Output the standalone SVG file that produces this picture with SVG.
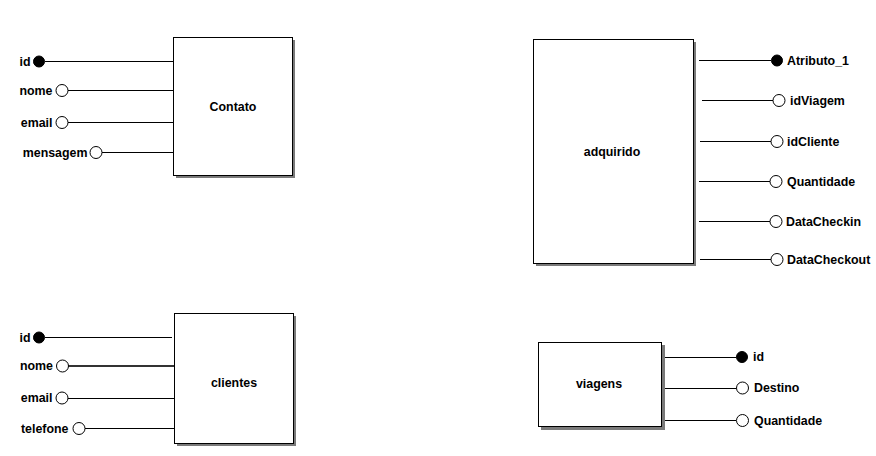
<svg xmlns="http://www.w3.org/2000/svg" width="876" height="456" viewBox="0 0 876 456">
<style>
text{font-family:"Liberation Sans",Arial,sans-serif;font-size:12.4px;font-weight:bold;fill:#000}
.l{text-anchor:end}
.c{text-anchor:middle}
.box{fill:#fff;stroke:#000;stroke-width:1}
.sh{fill:#7a7a7a}
.ln{stroke:#000;stroke-width:1;fill:none}
.ko{fill:#fff;stroke:#000;stroke-width:1}
.pk{fill:#000;stroke:#000;stroke-width:1}
</style>
<rect width="876" height="456" fill="#fff"/>
<g id="connectors">
<line class="ln" x1="45" y1="61.5" x2="173" y2="61.5"/>
<line class="ln" x1="68" y1="90.5" x2="173" y2="90.5"/>
<line class="ln" x1="68" y1="122.5" x2="173" y2="122.5"/>
<line class="ln" x1="102" y1="152.5" x2="175" y2="152.5"/>
<line class="ln" x1="699" y1="60.5" x2="771" y2="60.5"/>
<line class="ln" x1="702" y1="100.5" x2="773" y2="100.5"/>
<line class="ln" x1="700" y1="141.5" x2="771" y2="141.5"/>
<line class="ln" x1="699" y1="181.5" x2="770" y2="181.5"/>
<line class="ln" x1="699" y1="221.5" x2="770" y2="221.5"/>
<line class="ln" x1="700" y1="259.5" x2="771" y2="259.5"/>
<line class="ln" x1="45" y1="337.5" x2="172" y2="337.5"/>
<line class="ln" x1="68" y1="366" x2="175" y2="366" style="stroke:#333;stroke-width:2"/>
<line class="ln" x1="68" y1="398.5" x2="175" y2="398.5"/>
<line class="ln" x1="85" y1="428.5" x2="176" y2="428.5"/>
<line class="ln" x1="665" y1="357.5" x2="736" y2="357.5"/>
<line class="ln" x1="665" y1="388.5" x2="736" y2="388.5"/>
<line class="ln" x1="665" y1="420.5" x2="736" y2="420.5"/>
</g>
<g id="Contato">
<rect class="sh" x="176" y="40" width="119" height="138"/>
<rect class="box" x="173.5" y="37.5" width="119" height="138"/>
<text class="c" x="233" y="111">Contato</text>
<circle class="pk" cx="39" cy="61.5" r="5.5"/>
<text class="l" x="30.5" y="65.5">id</text>
<circle class="ko" cx="62" cy="90.5" r="6"/>
<text class="l" x="52.5" y="94.5">nome</text>
<circle class="ko" cx="62" cy="122.5" r="6"/>
<text class="l" x="52.5" y="126.5">email</text>
<circle class="ko" cx="96" cy="152.5" r="6"/>
<text class="l" x="87.5" y="156.5">mensagem</text>
</g>
<g id="adquirido">
<rect class="sh" x="536" y="42" width="160" height="224"/>
<rect class="box" x="533.5" y="39.5" width="160" height="224"/>
<text class="c" x="612" y="156">adquirido</text>
<circle class="pk" cx="777" cy="60.5" r="5.5"/>
<text x="787" y="64.5">Atributo_1</text>
<circle class="ko" cx="779" cy="100.5" r="6"/>
<text x="790" y="104.5">idViagem</text>
<circle class="ko" cx="777" cy="141.5" r="6"/>
<text x="787" y="145.5">idCliente</text>
<circle class="ko" cx="776" cy="181.5" r="6"/>
<text x="787" y="185.5">Quantidade</text>
<circle class="ko" cx="776" cy="221.5" r="6"/>
<text x="786" y="225.5">DataCheckin</text>
<circle class="ko" cx="777" cy="259.5" r="6"/>
<text x="787" y="263.5">DataCheckout</text>
</g>
<g id="clientes">
<rect class="sh" x="177" y="316" width="119" height="130"/>
<rect class="box" x="174.5" y="313.5" width="119" height="130"/>
<text class="c" x="234" y="387">clientes</text>
<circle class="pk" cx="39" cy="337.5" r="5.5"/>
<text class="l" x="30.5" y="341.5">id</text>
<circle class="ko" cx="62.5" cy="366" r="6"/>
<text class="l" x="53" y="370">nome</text>
<circle class="ko" cx="62" cy="398" r="6"/>
<text class="l" x="52.5" y="402">email</text>
<circle class="ko" cx="79" cy="428.5" r="6"/>
<text class="l" x="68.5" y="432.5">telefone</text>
</g>
<g id="viagens">
<rect class="sh" x="541" y="345" width="124" height="85"/>
<rect class="box" x="538.5" y="342.5" width="123" height="84"/>
<text class="c" x="599" y="388">viagens</text>
<circle class="pk" cx="742" cy="357" r="5.5"/>
<text x="753" y="361">id</text>
<circle class="ko" cx="742.5" cy="388" r="6"/>
<text x="754" y="392">Destino</text>
<circle class="ko" cx="742.5" cy="420.5" r="6"/>
<text x="754" y="424.5">Quantidade</text>
</g>
</svg>
